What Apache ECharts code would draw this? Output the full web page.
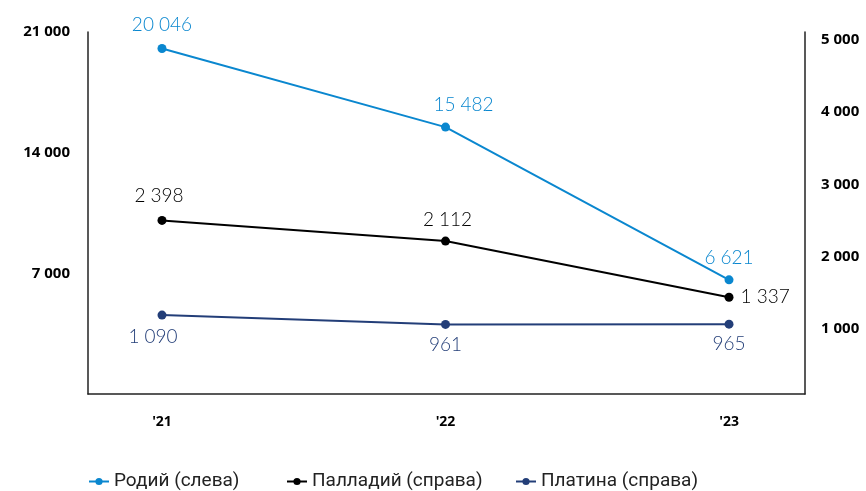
<!DOCTYPE html>
<html>
<head>
<meta charset="utf-8">
<script src="https://cdn.jsdelivr.net/npm/echarts@6/dist/echarts.min.js"></script>
<style>
  html, body { margin: 0; padding: 0; background: #fff; }
  #chart { width: 866px; height: 491px; }
</style>
</head>
<body>
<div id="chart"></div>
<script>
// Years on the x axis
const years = ["'21", "'22", "'23"];
// Rhodium price (left axis)
const rhodium = [20046, 15482, 6621];
// Palladium price (right axis)
const palladium = [2398, 2112, 1337];
// Platinum price (right axis)
const platinum = [1090, 961, 965];

const seriesNames = ['Родий (слева)', 'Палладий (справа)', 'Платина (справа)'];
const colors = ['#0a87cf', '#000000', '#233e78'];

function fmt(v) {
  return String(v).replace(/\B(?=(\d{3})+(?!\d))/g, ' ');
}

const labelFont = 'Lato, "Open Sans", sans-serif';
const axisFont = '"Open Sans", sans-serif';

// Per-point label placement
const labelPlacement = [
  [{ position: 'top', offset: [0, -5] }, { position: 'top', offset: [18, -3] }, { position: 'top', offset: [0, -3] }],
  [{ position: 'top', offset: [-3, -6] }, { position: 'top', offset: [2, -2] }, { position: 'right', offset: [2, 0] }],
  [{ position: 'bottom', offset: [-9, 3] }, { position: 'bottom', offset: [0, 1] }, { position: 'bottom', offset: [0, 1] }]
];

function buildData(values, si) {
  return values.map((v, i) => ({
    value: [i, v],
    label: Object.assign({}, labelPlacement[si][i])
  }));
}

function lineSeries(values, si, yIndex) {
  return {
    name: seriesNames[si],
    type: 'line',
    yAxisIndex: yIndex,
    data: buildData(values, si),
    symbol: 'circle',
    symbolSize: 9,
    color: colors[si],
    lineStyle: { width: 2, color: colors[si] },
    itemStyle: { color: colors[si] },
    label: {
      show: true,
      color: colors[si],
      fontFamily: labelFont,
      fontWeight: 300,
      fontSize: 19,
      formatter: p => fmt(p.value[1])
    },
    emphasis: { disabled: true },
    z: 3 - si
  };
}

// One legend block per series so each entry sits at its own spot
const legendLefts = [83, 281, 510];
const legends = seriesNames.map((name, i) => ({
  data: [name],
  left: legendLefts[i],
  top: 467,
  itemWidth: 20,
  itemHeight: 9,
  textStyle: { fontFamily: 'Roboto, sans-serif', fontSize: 19, color: '#222' }
}));

const axisLabelStyle = {
  color: '#000',
  fontFamily: axisFont,
  fontWeight: 'bold',
  fontSize: 15
};

const chart = echarts.init(document.getElementById('chart'), null, { renderer: 'canvas' });
chart.setOption({
  animation: false,
  backgroundColor: '#fff',
  grid: { left: 88, right: 61, top: 32, bottom: 97, containLabel: false },
  legend: legends,
  xAxis: {
    type: 'value',
    min: -0.261,
    max: 2.268,
    axisLine: { show: true, lineStyle: { color: '#222', width: 1.5 } },
    axisTick: { show: false },
    splitLine: { show: false },
    axisLabel: Object.assign({
      customValues: [0, 1, 2],
      formatter: v => years[Math.round(v)] || '',
      margin: 21
    }, axisLabelStyle, { fontSize: 14 })
  },
  yAxis: [
    {
      type: 'value',
      position: 'left',
      min: 0,
      max: 21000,
      interval: 7000,
      axisLine: { show: true, onZero: false, lineStyle: { color: '#222', width: 1.5 } },
      axisTick: { show: false },
      splitLine: { show: false },
      axisLabel: Object.assign({
        formatter: v => (v === 0 ? '' : fmt(v)),
        margin: 18
      }, axisLabelStyle)
    },
    {
      type: 'value',
      position: 'right',
      min: 0,
      max: 5000,
      interval: 1000,
      axisLine: { show: true, onZero: false, lineStyle: { color: '#222', width: 1.5 } },
      axisTick: { show: false },
      splitLine: { show: false },
      axisLabel: Object.assign({
        formatter: v => (v === 0 ? '' : fmt(v)),
        margin: 16,
        verticalAlign: 'top'
      }, axisLabelStyle)
    }
  ],
  series: [
    lineSeries(rhodium, 0, 0),
    lineSeries(palladium, 1, 1),
    lineSeries(platinum, 2, 1)
  ]
});
</script>
</body>
</html>
